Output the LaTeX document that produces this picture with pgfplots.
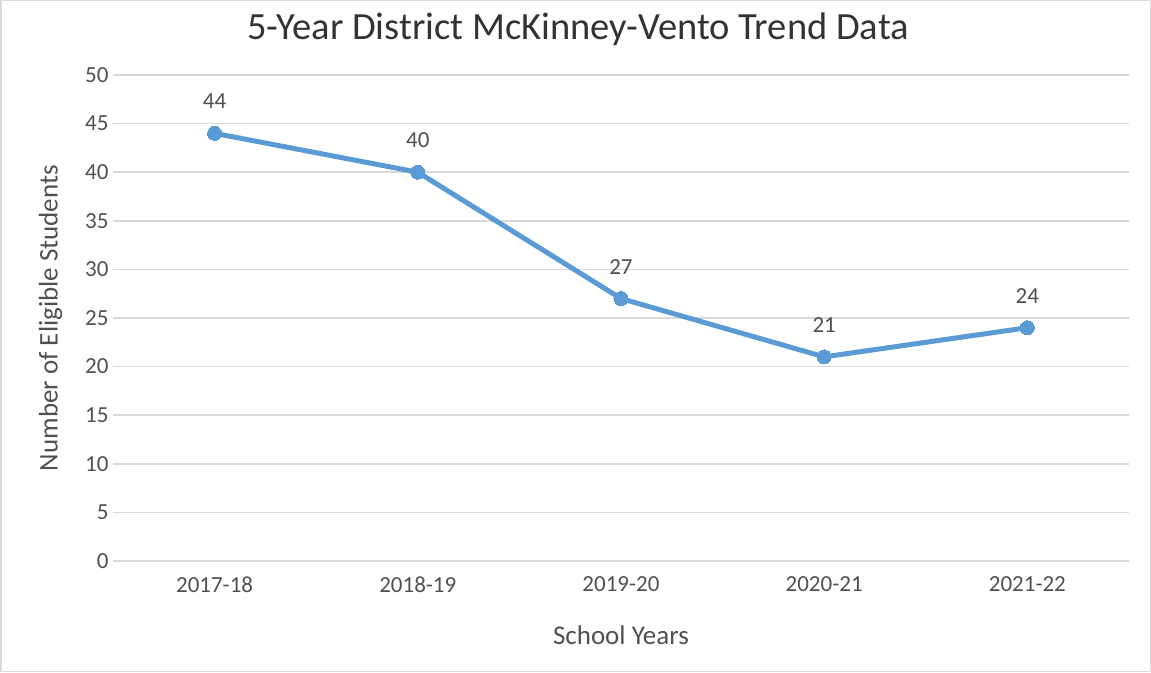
\documentclass[border=0pt]{standalone}
\usepackage{pgfplots}
\pgfplotsset{compat=1.18}
\usepackage{fontspec}
\setmainfont{Carlito}
\definecolor{lineblue}{HTML}{5B9BD5}
\definecolor{txt}{HTML}{505050}
\definecolor{grid}{HTML}{D9D9D9}
\begin{document}
\begin{tikzpicture}
\useasboundingbox (0,0) rectangle (1151pt,672pt);
\draw[color=grid, line width=1.5pt] (0.75pt,0.75pt) rectangle (1150.25pt,671.25pt);
\node[font=\fontsize{38.5}{44}\selectfont, text=black!80] at (578pt,643pt) {5-Year District McKinney-Vento Trend Data};
\begin{axis}[
  at={(113pt,111pt)}, anchor=south west,
  scale only axis, width=1016pt, height=486pt,
  xmin=-0.5, xmax=4.5, ymin=0, ymax=50,
  xtick={0,1,2,3,4},
  xticklabels={2017-18,2018-19,2019-20,2020-21,2021-22},
  ytick={0,5,...,50},
  ymajorgrids, grid style={color=grid, line width=1.5pt},
  axis line style={draw=none},
  major tick length=0pt,
  tick label style={font=\fontsize{23}{27}\selectfont, text=txt},
  /pgf/number format/assume math mode=true,
  yticklabel style={xshift=-1pt},
  xticklabel style={yshift=-12pt},
  xlabel={School Years},
  ylabel={Number of Eligible Students},
  label style={font=\fontsize{27}{31}\selectfont, text=txt},
  xlabel style={yshift=-26pt},
  ylabel style={yshift=16pt},
  nodes near coords,
  every node near coord/.append style={font=\fontsize{23}{27}\selectfont, text=txt, anchor=south, yshift=21pt},
]
\addplot[color=lineblue, line width=5pt, mark=*, mark size=7pt, mark options={fill=lineblue, draw=lineblue, line width=0pt}]
  coordinates {(0,44) (1,40) (2,27) (3,21) (4,24)};
\end{axis}
\end{tikzpicture}
\end{document}
